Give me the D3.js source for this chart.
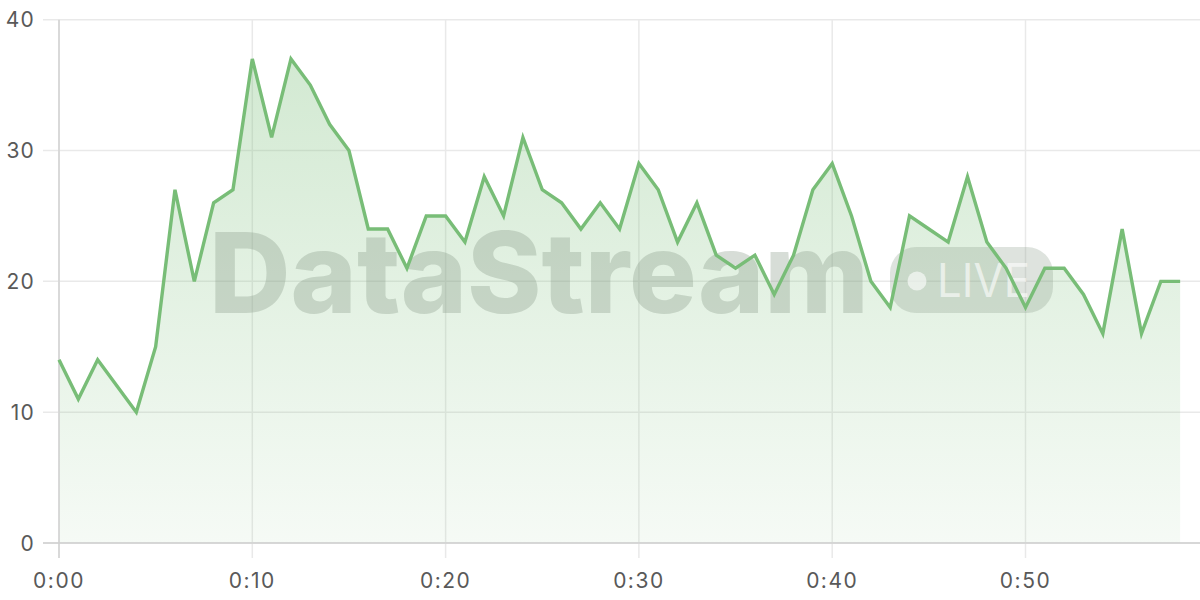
<!DOCTYPE html>
<html>
<head>
<meta charset="utf-8">
<script src="https://cdn.jsdelivr.net/npm/d3@7"></script>
<style>
  html, body { margin: 0; padding: 0; background: #fff; }
  svg { display: block; }
</style>
</head>
<body>
<svg id="chart" width="1200" height="600"></svg>
<script>
// ---- data ----
const minutes = d3.range(0, 59);
const values = [14, 11, 14, 12, 10, 15, 27, 20, 26, 27,
                37, 31, 37, 35, 32, 30, 24, 24, 21, 25,
                25, 23, 28, 25, 31, 27, 26, 24, 26, 24,
                29, 27, 23, 26, 22, 21, 22, 19, 22, 27,
                29, 25, 20, 18, 25, 24, 23, 28, 23, 21,
                18, 21, 21, 19, 16, 24, 16, 20, 20];
const yTicks = [0, 10, 20, 30, 40];
const xTicks = [0, 10, 20, 30, 40, 50];
const xTickLabels = ["0:00", "0:10", "0:20", "0:30", "0:40", "0:50"];
const watermarkText = "DataStream";
const liveText = "LIVE";

const data = minutes.map((m, i) => ({ m, v: values[i] }));

const svg = d3.select("#chart");
const pLeft = 59, pRight = 1200, pTop = 19.7, pBottom = 543;

const x = d3.scaleLinear().domain([0, 59]).range([pLeft, pLeft + 59 * 19.33]);
const y = d3.scaleLinear().domain([0, 40]).range([pBottom, pTop]);

const font = "Inter, 'Open Sans', sans-serif";

// gradient
const defs = svg.append("defs");
const grad = defs.append("linearGradient")
  .attr("id", "areaGrad")
  .attr("gradientUnits", "userSpaceOnUse")
  .attr("x1", 0).attr("x2", 0).attr("y1", y(37)).attr("y2", y(0));
grad.append("stop").attr("offset", "0%").attr("stop-color", "#78bd77").attr("stop-opacity", 0.33);
grad.append("stop").attr("offset", "100%").attr("stop-color", "#78bd77").attr("stop-opacity", 0.07);

// grid
const grid = svg.append("g");
grid.selectAll("line.h").data(yTicks).join("line")
  .attr("x1", 43).attr("x2", pRight)
  .attr("y1", d => y(d)).attr("y2", d => y(d))
  .attr("stroke", "#e9e9e9").attr("stroke-width", 1.5);
grid.selectAll("line.v").data(xTicks).join("line")
  .attr("x1", d => x(d)).attr("x2", d => x(d))
  .attr("y1", y(40)).attr("y2", 558)
  .attr("stroke", "#e9e9e9").attr("stroke-width", 1.5);

// area
svg.append("path").datum(data)
  .attr("d", d3.area().x(d => x(d.m)).y0(y(0)).y1(d => y(d.v)))
  .attr("fill", "url(#areaGrad)");

// watermark
const wm = svg.append("g");
wm.append("text")
  .attr("x", 209).attr("y", 313)
  .attr("font-family", "Inter, 'Open Sans', sans-serif")
  .attr("font-weight", 800)
  .attr("font-size", 112)
  .attr("textLength", 660)
  .attr("lengthAdjust", "spacingAndGlyphs")
  .attr("fill", "#8a9a8a").attr("fill-opacity", 0.34)
  .text(watermarkText);
wm.append("rect")
  .attr("x", 890).attr("y", 247).attr("width", 163).attr("height", 66)
  .attr("rx", 26).attr("ry", 26)
  .attr("fill", "#8a9a8a").attr("fill-opacity", 0.28);
wm.append("circle").attr("cx", 917).attr("cy", 281).attr("r", 9.5)
  .attr("fill", "#fff").attr("fill-opacity", 0.6);
wm.append("text")
  .attr("x", 937).attr("y", 297)
  .attr("font-family", "Inter, 'Open Sans', sans-serif")
  .attr("font-weight", 400).attr("font-size", 46)
  .attr("textLength", 93).attr("lengthAdjust", "spacingAndGlyphs")
  .attr("fill", "#fff").attr("fill-opacity", 0.6)
  .text(liveText);

// axes lines
svg.append("line").attr("x1", pLeft).attr("x2", pLeft).attr("y1", y(40)).attr("y2", 558)
  .attr("stroke", "#d2d2d2").attr("stroke-width", 1.5);
svg.append("line").attr("x1", 43).attr("x2", pRight).attr("y1", y(0)).attr("y2", y(0))
  .attr("stroke", "#cfcfcf").attr("stroke-width", 1.5);

// line
svg.append("path").datum(data)
  .attr("d", d3.line().x(d => x(d.m)).y(d => y(d.v)))
  .attr("fill", "none").attr("stroke", "#78bd77").attr("stroke-width", 3.4)
  .attr("stroke-linejoin", "miter");

// tick labels
svg.selectAll("text.yl").data(yTicks).join("text")
  .attr("class", "yl")
  .attr("x", 35).attr("y", d => y(d)).attr("dy", "0.36em")
  .attr("text-anchor", "end")
  .attr("font-family", font).attr("font-size", 21).attr("letter-spacing", 1.2)
  .attr("fill", "#595959")
  .text(d => d);
svg.selectAll("text.xl").data(xTicks).join("text")
  .attr("class", "xl")
  .attr("x", d => x(d)).attr("y", 587.5)
  .attr("text-anchor", "middle")
  .attr("font-family", font).attr("font-size", 21).attr("letter-spacing", 1.5)
  .attr("fill", "#595959")
  .text((d, i) => xTickLabels[i]);
</script>
</body>
</html>
